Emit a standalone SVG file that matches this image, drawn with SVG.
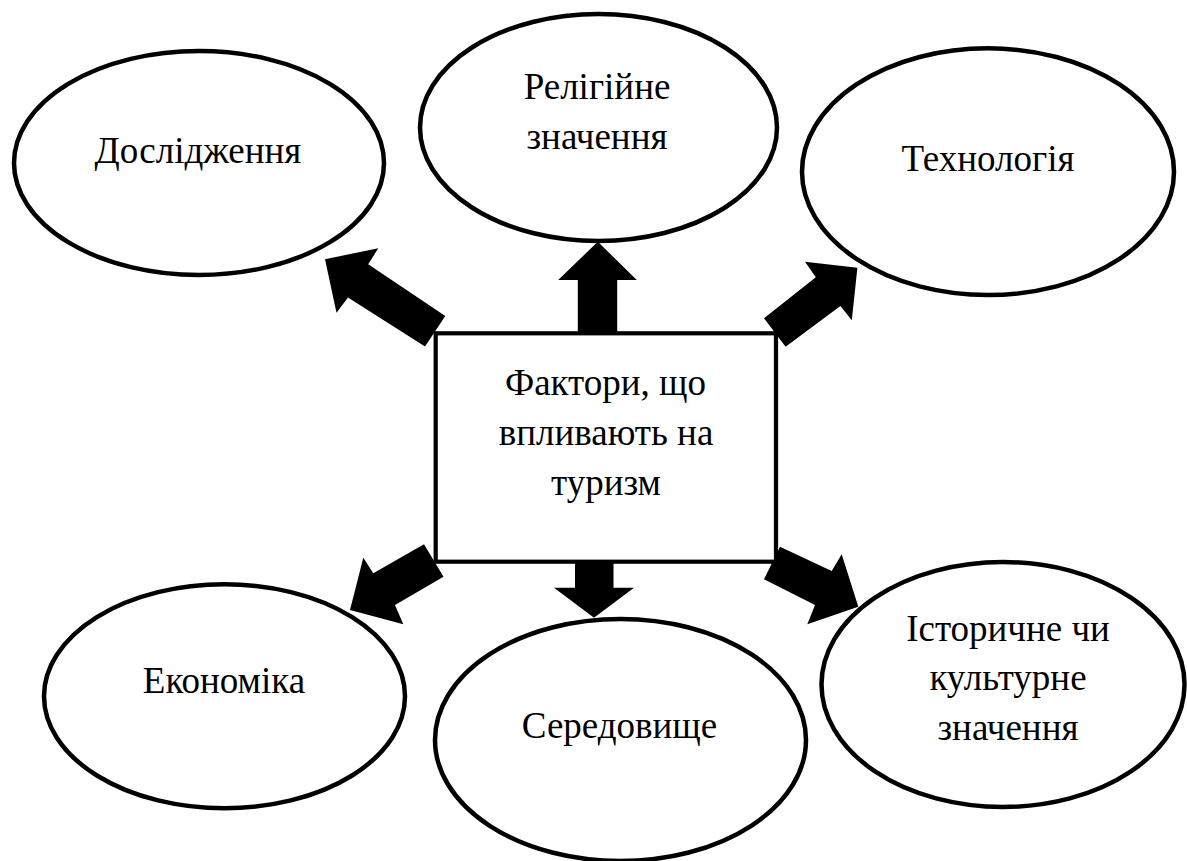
<svg xmlns="http://www.w3.org/2000/svg" width="1187" height="861" viewBox="0 0 1187 861">
<style>
.node{fill:#fff;stroke:#000;stroke-width:4.5}
.box{fill:#fff;stroke:#000;stroke-width:4.2}
.arrow{fill:#000;stroke:none}
text{font-size:37px;fill:#000;text-anchor:middle}
</style>
<rect x="0" y="0" width="1187" height="861" fill="#fff"/>
<g id="connectors">
<polygon class="arrow" points="425,346.5 348,297.5 336.5,312.7 325,259.2 378.3,248.2 368.2,264.3 445.3,316"/>
<polygon class="arrow" points="577.8,336 577.8,280 558.2,280 597.8,241.7 636.8,280 617.2,280 617.2,336"/>
<polygon class="arrow" points="764,318.3 815.8,277.2 805,261.7 857.4,267.7 851.8,320.3 840.4,306 785.6,346.7"/>
<polygon class="arrow" points="424,544.3 443.5,576.7 395,605 403.3,624.3 350,610 363.3,557.7 373.3,573.3"/>
<polygon class="arrow" points="575,558.3 613.5,558.3 613.5,587.7 634,587.7 594,617.7 554,587.7 575,587.7"/>
<polygon class="arrow" points="780,546.7 831.7,571 841.7,554.3 858.3,606.7 807.3,624.3 815,605 764,579.3"/>
</g>
<g font-family="Liberation Serif, Tinos, Times New Roman, Noto Serif, DejaVu Serif, serif">
<g id="center">
<rect class="box" x="435.7" y="333.3" width="340.3" height="228.4"/>
<text x="605.5" y="395">Фактори, що</text>
<text x="606" y="445">впливають на</text>
<text x="606" y="495">туризм</text>
</g>
<g id="doslidzhennia">
<ellipse class="node" cx="199" cy="163" rx="185" ry="112"/>
<text x="198" y="162.7">Дослідження</text>
</g>
<g id="relihiine">
<ellipse class="node" cx="598.5" cy="127.5" rx="178.5" ry="113.5"/>
<text x="597" y="99">Релігійне</text>
<text x="597" y="149">значення</text>
</g>
<g id="tekhnolohiia">
<ellipse class="node" cx="988" cy="171.7" rx="186" ry="123.4"/>
<text x="988" y="170.7">Технологія</text>
</g>
<g id="ekonomika">
<ellipse class="node" cx="224.5" cy="696.3" rx="180.5" ry="112"/>
<text x="224" y="693.3">Економіка</text>
</g>
<g id="seredovyshche">
<ellipse class="node" cx="620.5" cy="740" rx="185.5" ry="121"/>
<text x="619.5" y="738.3">Середовище</text>
</g>
<g id="istorychne">
<ellipse class="node" cx="1003" cy="684.5" rx="181.5" ry="122.5"/>
<text x="1008" y="641">Історичне чи</text>
<text x="1008" y="690.3">культурне</text>
<text x="1008" y="740.3">значення</text>
</g>
</g>
</svg>
